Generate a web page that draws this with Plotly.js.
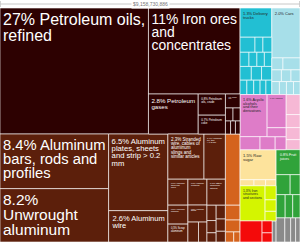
<!DOCTYPE html>
<html><head><meta charset="utf-8">
<script src="https://cdn.plot.ly/plotly-3.0.1.min.js"></script>
<style>html,body{margin:0;padding:0;background:#fff;overflow:hidden}#chart{width:300px;height:242px}</style>
</head><body><div id="chart"></div>
<script>
const totalLabel = "$9,158,730,886";

// Products (leaf tiles): key, label text (after the share), share of exports in %, sector
const productKeys = ['pref','iron','gas','crude','coke','m1','m2','m3','m4','m5','m6',
 'bars','unwr','plates','wire','strand','alx','cr1a','cr1b','cr1c','cr2a','cr2b','cr2c','cr2d','cr3a','cr3b','cr3c','cr3d','cr3e','cr3f','cr3g',
 'o1','o2','o3','o4','o5',
 'cd1','cd2','cd3','cd4','cd5','cd6','cd7','cd8','cd9','cd10','cd11','cd12','cd13','cd14','cd15','cd16',
 'cl1','cl2','cl3','cl4','cl5','cl6','cl7','cl8','cl9','cl10',
 'pk1','pk2','pk3','pk4','pk5','pk6','lp1','lp2','lp3','lp4',
 'bg1','bg2','bg3','bg4','lm1','lm2','lm3','lm4','rd1','rd2','rd3','gs',
 'gr1','gr2','gr3','gr4','gr5','gr6','gy1','gy2','gy3','gy4'];

const productShares = [26.6,11.2,2.83,0.82,0.73,0.29,0.14,0.13,0.095,0.09,0.085,
 8.44,8.24,6.46,2.64,2.32,1.37,0.74,0.54,0.51,0.70,0.46,0.30,0.24,0.68,0.2,0.16,0.12,0.18,0.16,0.14,
 1.49,0.31,0.25,0.12,0.09,
 1.32,0.32,0.17,0.19,0.18,0.16,0.15,0.15,0.22,0.2,0.2,0.14,0.14,0.13,0.12,0.12,
 2.0,0.19,0.29,0.16,0.16,0.15,0.14,0.13,0.13,0.12,
 1.62,0.89,0.24,0.37,0.28,0.2,0.4,0.26,0.24,0.2,
 1.54,0.12,0.1,0.09,1.25,0.22,0.18,0.15,0.66,0.17,0.13,0.12,
 0.85,0.4,0.28,0.3,0.25,0.24,0.3,0.2,0.17,0.15];

const productNames = {
 pref:' Petroleum oils,<br>refined',
 iron:' Iron ores<br>and<br>concentrates',
 gas:' Petroleum<br>gases',
 crude:' Petroleum<br>oils, crude',
 coke:' Petroleum<br>coke',
 m1:' Aluminum<br>oxide',
 bars:' Aluminum<br>bars, rods and<br>profiles',
 unwr:'<br>Unwrought<br>aluminum',
 plates:' Aluminum<br>plates, sheets<br>and strip > 0.2<br>mm',
 wire:' Aluminum<br>wire',
 strand:' Stranded<br>wire, cables of<br>aluminum<br>slings and<br>similar articles',
 alx:' Aluminum<br>foil, thin<br>< 0.2 mm',
 cr1a:' Aluminum<br>tubes and<br>pipes',
 cr1b:' Aluminum<br>powders',
 cr1c:' Scrap<br>aluminum',
 cr2a:' Aluminum<br>containers',
 cr2b:' Aluminum<br>fittings',
 cr3a:' Other<br>aluminum<br>articles',
 cd1:' Delivery<br>trucks',
 cl1:' Cars',
 pk1:' Acyclic<br>alcohols<br>and their<br>derivatives',
 pk2:' Ammonia',
 bg1:' Raw<br>sugar',
 lm1:' Iron<br>structures<br>and sections',
 gr1:' Fruit<br>juices'
};

const productSectors = {
 min:['pref','iron','gas','crude','coke','m1','m2','m3','m4','m5','m6'],
 met:['bars','unwr','plates','wire','strand','alx','cr1a','cr1b','cr1c','cr2a','cr2b','cr2c','cr2d','cr3a','cr3b','cr3c','cr3d','cr3e','cr3f','cr3g'],
 org:['o1','o2','o3','o4','o5'],
 cyd:['cd1','cd2','cd3','cd4','cd5','cd6','cd7','cd8','cd9','cd10','cd11','cd12','cd13','cd14','cd15','cd16'],
 cyl:['cl1','cl2','cl3','cl4','cl5','cl6','cl7','cl8','cl9','cl10'],
 pnk:['pk1','pk2','pk3','pk4','pk5','pk6'],
 lpk:['lp1','lp2','lp3','lp4'],
 bei:['bg1','bg2','bg3','bg4'],
 lim:['lm1','lm2','lm3','lm4'],
 red:['rd1','rd2','rd3'],
 grn:['gr1','gr2','gr3','gr4','gr5','gr6'],
 gry:['gs','gy1','gy2','gy3','gy4']
};

// Styles
const sectorColors = {min:'#2d0101',met:'#5c1f0b',org:'#d4631d',cyd:'#22bfd3',cyl:'#a7dfe9',pnk:'#de7cc8',lpk:'#f6b8d5',bei:'#fde39c',lim:'#d4f500',red:'#f40a0a',grn:'#30a33a',gry:'#8a8a8a'};
const darkSectors = ['min','met','org','red','grn','gry'];
const labelSize = {pref:16,iron:14,bars:17,unwr:17,plates:9,gas:7.5,wire:8.5,strand:4.8,alx:4,crude:4,coke:4,m1:3,
 cr1a:3.5,cr1b:3.5,cr1c:3.5,cr2a:3.5,cr2b:3.5,cr3a:3.5,cd1:4,cl1:4,pk1:4,pk2:4,bg1:4,lm1:4,gr1:4};
const lineStep = {pref:15.7, iron:13, bars:16.3, unwr:16.5}; // px between baselines
const defaultStep = 0.95; // x glyph size

// Nesting used to arrange the tiles (node, parent)
const nesting = [
 ['root',''],
 ['L','root'],
  ['MIN','L'],
   ['pref','MIN'],
   ['MINR','MIN'],
    ['iron','MINR'],
    ['MINR2','MINR'],
     ['gas','MINR2'],
     ['MC1','MINR2'],['crude','MC1'],['coke','MC1'],
     ['MC2','MINR2'],['m1','MC2'],['MC2b','MC2'],['m2','MC2b'],['m3','MC2b'],['MC2c','MC2'],['m4','MC2c'],['m5','MC2c'],['m6','MC2c'],
  ['BOT','L'],
   ['colA','BOT'],['bars','colA'],['unwr','colA'],
   ['colB','BOT'],['plates','colB'],['wire','colB'],
   ['colC','BOT'],
    ['C1','colC'],['strand','C1'],['alx','C1'],
    ['C2','colC'],
     ['CR1','C2'],['cr1a','CR1'],['cr1b','CR1'],['cr1c','CR1'],
     ['CR2','C2'],['cr2a','CR2'],['cr2b','CR2'],['CR2c','CR2'],['cr2c','CR2c'],['cr2d','CR2c'],
     ['CR3','C2'],['cr3a','CR3'],['CR3b','CR3'],['CR3b1','CR3b'],['cr3b','CR3b1'],['cr3c','CR3b1'],['cr3d','CR3b1'],
        ['CR3b2','CR3b'],['cr3e','CR3b2'],['cr3f','CR3b2'],['cr3g','CR3b2'],
   ['ORG','BOT'],['o1','ORG'],['o2','ORG'],['o3','ORG'],['ORGd','ORG'],['o4','ORGd'],['o5','ORGd'],
 ['R','root'],
  ['CY','R'],
   ['CYD','CY'],['cd1','CYD'],
    ['CYD2','CYD'],['cd2','CYD2'],['cd3','CYD2'],['cd4','CYD2'],
    ['CYD3','CYD'],['cd5','CYD3'],['cd6','CYD3'],['cd7','CYD3'],['cd8','CYD3'],
    ['CYD4','CYD'],['cd9','CYD4'],['cd10','CYD4'],['cd11','CYD4'],
    ['CYD5','CYD'],['cd12','CYD5'],['cd13','CYD5'],['cd14','CYD5'],['cd15','CYD5'],['cd16','CYD5'],
   ['CYL','CY'],['cl1','CYL'],
    ['CYL2','CYL'],['cl2','CYL2'],['cl3','CYL2'],
    ['CYL3','CYL'],['cl4','CYL3'],['cl5','CYL3'],['cl6','CYL3'],
    ['CYL4','CYL'],['cl7','CYL4'],['cl8','CYL4'],['cl9','CYL4'],['cl10','CYL4'],
  ['PK','R'],
   ['PKM','PK'],
    ['PKM1','PKM'],['pk1','PKM1'],['PKC','PKM1'],['pk2','PKC'],['pk3','PKC'],
    ['PKM2','PKM'],['pk4','PKM2'],['pk5','PKM2'],['pk6','PKM2'],
   ['PKL','PK'],['lp1','PKL'],['lp2','PKL'],['lp3','PKL'],['lp4','PKL'],
  ['LOW','R'],
   ['LOWL','LOW'],
    ['bg1','LOWL'],['BEI2','LOWL'],['bg2','BEI2'],['bg3','BEI2'],['bg4','BEI2'],
    ['LIM','LOWL'],['lm1','LIM'],['LIM2','LIM'],['lm2','LIM2'],['lm3','LIM2'],['lm4','LIM2'],
    ['REDR','LOWL'],['rd1','REDR'],['RED2','REDR'],['rd2','RED2'],['rd3','RED2'],['gs','REDR'],
   ['LOWR','LOW'],
    ['gr1','LOWR'],['GR2','LOWR'],['gr2','GR2'],['gr3','GR2'],
    ['GR3','LOWR'],['gr4','GR3'],['gr5','GR3'],['gr6','GR3'],
    ['GY','LOWR'],['gy1','GY'],['gy2','GY'],['gy3','GY'],['gy4','GY']
];

function pct(v){ return v >= 10 ? Math.round(v) + '%' : v.toFixed(1) + '%'; }
const sectorOf = {};
Object.keys(productSectors).forEach(s => productSectors[s].forEach(k => sectorOf[k] = s));

const ids=[], parents=[], values=[], texts=[], colors=[], sizes=[], fcolors=[], lwidths=[];
nesting.forEach(([id, par]) => {
  ids.push(id); parents.push(par);
  const i = productKeys.indexOf(id);
  if (i >= 0) {
    const v = productShares[i];
    values.push(v);
    const nm = productNames[id];
    const fs = labelSize[id] || 3;
    texts.push(nm ? (pct(v) + nm).split('<br>').map(l => '<span style="font-size:' + fs + 'px">' + l + '</span>').join('<br>') : '');
    const s = sectorOf[id];
    colors.push(sectorColors[s]);
    sizes.push((lineStep[id] || fs * defaultStep) / 1.3);
    fcolors.push(darkSectors.includes(s) ? '#ffffff' : '#222222');
    lwidths.push(1);
  } else {
    values.push(0); texts.push(''); colors.push('rgba(0,0,0,0)');
    sizes.push(3); fcolors.push('#fff'); lwidths.push(0);
  }
});

const trace = {
  type:'treemap', ids:ids, labels:ids, parents:parents, values:values,
  branchvalues:'remainder', sort:false,
  text:texts, textinfo:'text', textposition:'top left',
  textfont:{family:"'Liberation Sans Narrow','Arial Narrow','Liberation Sans',Arial,sans-serif", size:sizes, color:fcolors},
  marker:{colors:colors, line:{color:'rgba(255,255,255,0.6)', width:lwidths}, pad:{t:0,l:0,r:0,b:0}, depthfade:false},
  tiling:{packing:'slice-dice', pad:0},
  pathbar:{visible:false},
  hoverinfo:'none', root:{color:'rgba(0,0,0,0)'}
};

const layout = {
  width:300, height:242, margin:{l:0,r:0,t:8,b:0,pad:0},
  paper_bgcolor:'#ffffff', showlegend:false,
  annotations:[{text:totalLabel, xref:'paper', yref:'paper', x:0.5, y:1, yanchor:'middle', yshift:4,
    showarrow:false, bgcolor:'#ffffff', borderpad:1, font:{family:'Liberation Sans, Arial, sans-serif', size:5, color:'#777'}}],
  shapes:[
    {type:'line', xref:'paper', yref:'paper', x0:0, x1:1, ysizemode:'pixel', yanchor:1, y0:4, y1:4, line:{color:'#c8c8c8', width:1}, layer:'below'},
    {type:'line', xref:'paper', yref:'paper', x0:0.999, x1:0.999, ysizemode:'pixel', yanchor:1, y0:1, y1:7, line:{color:'#c8c8c8', width:1}, layer:'below'},
    {type:'line', xref:'paper', yref:'paper', x0:0.001, x1:0.001, ysizemode:'pixel', yanchor:1, y0:1, y1:7, line:{color:'#c8c8c8', width:1}, layer:'below'}
  ]
};
Plotly.newPlot('chart',[trace],layout,{displayModeBar:false, staticPlot:true});
</script></body></html>
